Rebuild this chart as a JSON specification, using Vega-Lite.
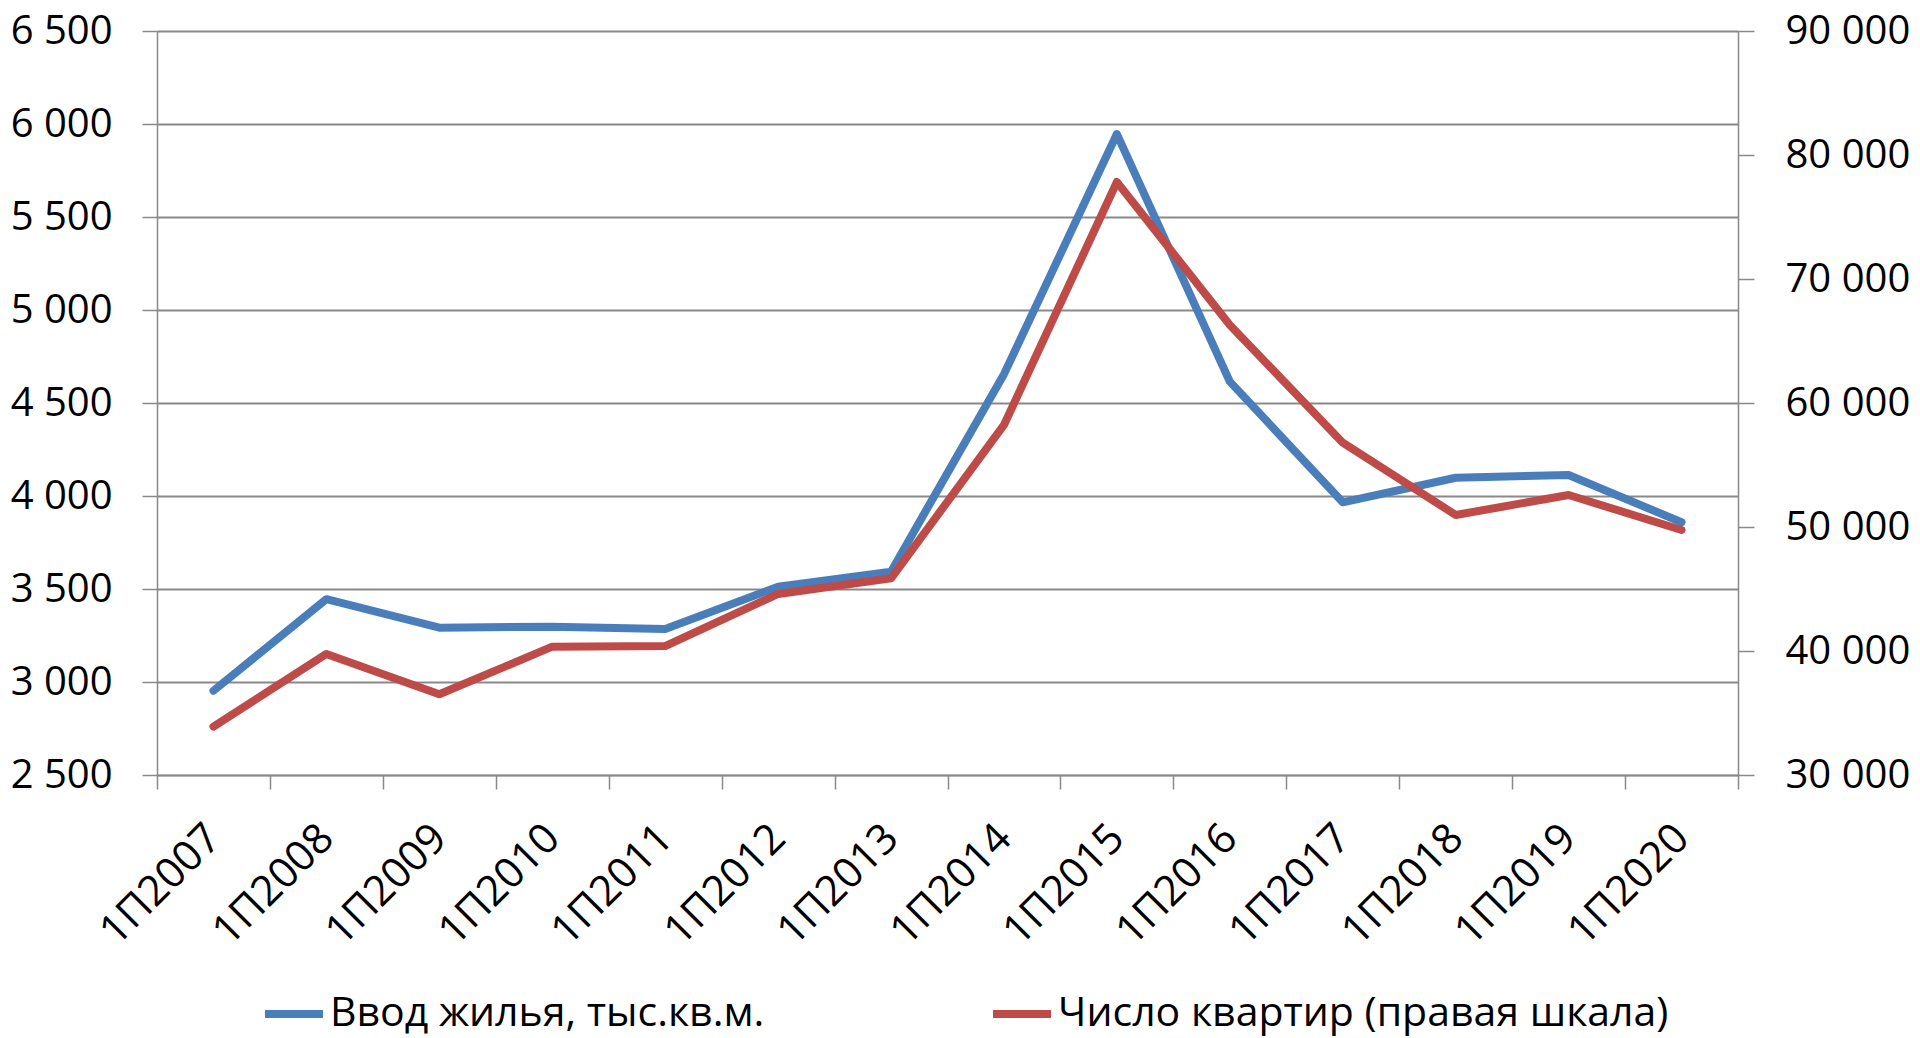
{
  "$schema": "https://vega.github.io/schema/vega-lite/v6.json",
  "width": 1581,
  "height": 744,
  "autosize": {"type": "none"},
  "padding": {"left": 157, "top": 31, "right": 182, "bottom": 263},
  "background": "white",
  "config": {
    "view": {"stroke": null},
    "font": "Open Sans",
    "axis": {"labelFont": "Open Sans", "labelColor": "#000000", "domainColor": "#898989", "tickColor": "#898989", "domainWidth": 1.5, "tickWidth": 1.5},
    "legend": {"labelFont": "Open Sans"}
  },
  "data": {
    "values": [
      {"period": "1П2007", "vvod": 2953, "kv": 33900},
      {"period": "1П2008", "vvod": 3445, "kv": 39760},
      {"period": "1П2009", "vvod": 3292, "kv": 36510},
      {"period": "1П2010", "vvod": 3297, "kv": 40350},
      {"period": "1П2011", "vvod": 3285, "kv": 40400},
      {"period": "1П2012", "vvod": 3512, "kv": 44600},
      {"period": "1П2013", "vvod": 3593, "kv": 45860},
      {"period": "1П2014", "vvod": 4655, "kv": 58230},
      {"period": "1П2015", "vvod": 5946, "kv": 77820},
      {"period": "1П2016", "vvod": 4615, "kv": 66290},
      {"period": "1П2017", "vvod": 3966, "kv": 56800},
      {"period": "1П2018", "vvod": 4098, "kv": 50970},
      {"period": "1П2019", "vvod": 4113, "kv": 52580},
      {"period": "1П2020", "vvod": 3859, "kv": 49760}
    ]
  },
  "encoding": {
    "x": {
      "field": "period",
      "type": "ordinal",
      "sort": null,
      "scale": {"type": "band", "paddingInner": 0, "paddingOuter": 0},
      "axis": {
        "title": null,
        "tickBand": "extent",
        "tickSize": 14,
        "labelAngle": -45,
        "labelAlign": "right",
        "labelBaseline": "middle",
        "labelFontSize": 42,
        "labelPadding": 42,
        "labelOffset": 0,
        "grid": false
      }
    }
  },
  "layer": [
    {
      "mark": {"type": "line", "strokeWidth": 8, "strokeCap": "round", "strokeJoin": "round"},
      "encoding": {
        "y": {
          "field": "vvod",
          "type": "quantitative",
          "scale": {"domain": [2500, 6500], "nice": false, "zero": false},
          "axis": {
            "title": null,
            "orient": "left",
            "values": [2500, 3000, 3500, 4000, 4500, 5000, 5500, 6000, 6500],
            "labelExpr": "replace(format(datum.value, ','), ',', ' ')",
            "labelFontSize": 40,
            "tickSize": 15,
            "labelPadding": 30,
            "grid": true,
            "gridColor": "#898989",
            "gridWidth": 2
          }
        },
        "color": {
          "datum": "Ввод жилья, тыс.кв.м.",
          "type": "nominal",
          "scale": {"domain": ["Ввод жилья, тыс.кв.м.", "Число квартир (правая шкала)"], "range": ["#4A7EBB", "#BE4B48"]},
          "legend": {
            "title": null,
            "orient": "none",
            "direction": "horizontal",
            "legendX": 104,
            "legendY": 950,
            "symbolType": "stroke",
            "symbolSize": 3364,
            "symbolStrokeWidth": 8,
            "labelFontSize": 41,
            "labelLimit": 900,
            "labelOffset": 3,
            "columnPadding": 212,
            "labelColor": "#000000"
          }
        }
      }
    },
    {
      "mark": {"type": "line", "strokeWidth": 8, "strokeCap": "round", "strokeJoin": "round"},
      "encoding": {
        "y": {
          "field": "kv",
          "type": "quantitative",
          "scale": {"domain": [30000, 90000], "nice": false, "zero": false},
          "axis": {
            "title": null,
            "orient": "right",
            "values": [30000, 40000, 50000, 60000, 70000, 80000, 90000],
            "labelExpr": "replace(format(datum.value, ','), ',', ' ')",
            "labelFontSize": 40,
            "tickSize": 16,
            "labelPadding": 31,
            "grid": false
          }
        },
        "color": {"datum": "Число квартир (правая шкала)", "type": "nominal"}
      }
    }
  ],
  "resolve": {"scale": {"y": "independent"}}
}
